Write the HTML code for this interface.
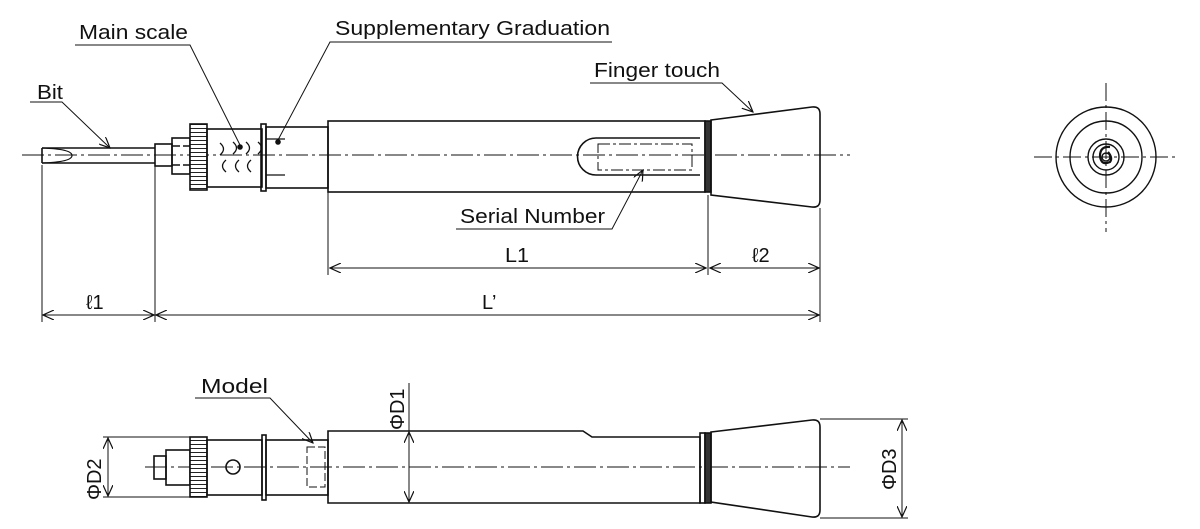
<!DOCTYPE html>
<html><head><meta charset="utf-8"><style>
html,body{margin:0;padding:0;background:#fff;}
svg{display:block;}
text{font-family:"Liberation Sans",sans-serif;font-size:20px;fill:#111;}
</style></head><body>
<svg width="1200" height="529" viewBox="0 0 1200 529" xmlns="http://www.w3.org/2000/svg">
<defs>
<pattern id="kn" width="3" height="4" patternUnits="userSpaceOnUse"><rect width="3" height="4" fill="#fff"/><line x1="0" y1="0.5" x2="3" y2="0.5" stroke="#222" stroke-width="1"/></pattern>
<marker id="ar" markerWidth="12" markerHeight="10" refX="11" refY="5" orient="auto" markerUnits="userSpaceOnUse"><path d="M0,0 L11,5 L0,10" fill="none" stroke="#111" stroke-width="1.2"/></marker>
</defs>
<g fill="none" stroke="#111" stroke-width="1.6">
<line x1="22" y1="155" x2="850" y2="155" stroke-width="1" stroke-dasharray="22,4,3,4"/>
<line x1="145" y1="467" x2="850" y2="467" stroke-width="1" stroke-dasharray="22,4,3,4"/>
<!-- TOP VIEW -->
<path d="M42,148 L155,148 M42,163 L155,163 M42,148 L42,163"/>
<path d="M42,148 Q72,149 72,155.5 Q72,162 42,163" stroke-width="1.2"/>
<rect x="155" y="144" width="17" height="22"/>
<rect x="172" y="138" width="18" height="36"/>
<path d="M172,146 L200,146 M172,165 L200,165" stroke-dasharray="8,3"/>
<rect x="190" y="124" width="17" height="66" fill="url(#kn)"/>
<rect x="207" y="129" width="55" height="58"/>
<rect x="261" y="124" width="5" height="67"/>
<rect x="266" y="127" width="62" height="61"/>
<path d="M266,139 L285,139 M266,175 L285,175" stroke-width="1.2"/>
<path d="M220,143 q7,6 0,12 M233,142 q7,6 0,12 M246,142 q7,6 0,12 M258,142 q7,6 0,12 M226,172 q-7,-6 0,-12 M239,172 q-7,-6 0,-12 M251,172 q-7,-6 0,-12" stroke-width="1.3"/>
<circle cx="240" cy="147" r="2" fill="#111"/>
<circle cx="278" cy="142" r="2" fill="#111"/>
<rect x="328" y="121" width="377" height="71"/>
<path d="M700,138 L596,138 A18.5,18.5 0 0 0 596,175 L700,175"/>
<rect x="598" y="144" width="94" height="26" stroke-width="1" stroke-dasharray="12,3,3,3"/>
<rect x="705" y="121" width="6" height="71" fill="#333"/>
<path d="M711,120 L812,107 Q820,106 820,114 L820,200 Q820,208 812,207 L711,195 Z"/>
<g stroke-width="1">
<line x1="42" y1="165" x2="42" y2="322"/>
<line x1="155" y1="166" x2="155" y2="322"/>
<line x1="328" y1="192" x2="328" y2="275"/>
<line x1="708" y1="195" x2="708" y2="275"/>
<line x1="820" y1="208" x2="820" y2="322"/>
<line x1="330" y1="268" x2="706" y2="268" marker-end="url(#ar)"/>
<line x1="706" y1="268" x2="330" y2="268" marker-end="url(#ar)"/>
<line x1="710" y1="268" x2="819" y2="268" marker-end="url(#ar)"/>
<line x1="819" y1="268" x2="710" y2="268" marker-end="url(#ar)"/>
<line x1="43" y1="315" x2="154" y2="315" marker-end="url(#ar)"/>
<line x1="154" y1="315" x2="43" y2="315" marker-end="url(#ar)"/>
<line x1="156" y1="315" x2="819" y2="315" marker-end="url(#ar)"/>
<line x1="819" y1="315" x2="156" y2="315" marker-end="url(#ar)"/>
<polyline points="30,102 62,102 110,148" marker-end="url(#ar)"/>
<polyline points="75,45 190,45 240,145"/>
<polyline points="612,42 330,42 278,140"/>
<polyline points="590,83 722,83 753,112" marker-end="url(#ar)"/>
<polyline points="456,229 612,229 643,170" marker-end="url(#ar)"/>
<polyline points="195,398 270,398 313,443" marker-end="url(#ar)"/>
</g>
<!-- END VIEW -->
<g stroke-width="1.4">
<line x1="1034" y1="157" x2="1178" y2="157" stroke-width="1" stroke-dasharray="18,4,3,4"/>
<line x1="1106" y1="83" x2="1106" y2="232" stroke-width="1" stroke-dasharray="18,4,3,4"/>
<circle cx="1106" cy="157" r="50"/>
<circle cx="1106" cy="157" r="36"/>
<circle cx="1106" cy="157" r="18"/>
<circle cx="1106" cy="157" r="13"/>
<circle cx="1106" cy="157" r="4"/>
<path d="M1110,147 Q1100,146 1100,156 Q1101,166 1110,162 Q1113,158 1108,152" stroke-width="2.2"/>
</g>
<!-- BOTTOM VIEW -->
<rect x="154" y="456" width="12" height="23"/>
<rect x="166" y="450" width="24" height="35"/>
<rect x="190" y="437" width="17" height="60" fill="url(#kn)"/>
<rect x="207" y="440" width="55" height="55"/>
<circle cx="233" cy="467" r="7"/>
<rect x="262" y="435" width="4" height="65"/>
<rect x="266" y="440" width="62" height="55"/>
<rect x="307" y="447" width="18" height="40" stroke-width="1" stroke-dasharray="8,3"/>
<path d="M328,431 L583,431 L592,437 L700,437 L700,503 L328,503 Z"/>
<rect x="700" y="433" width="5" height="70"/>
<rect x="705" y="433" width="6" height="70" fill="#333"/>
<path d="M711,432 L812,420 Q820,419 820,427 L820,510 Q820,518 812,517 L711,502 Z"/>
<g stroke-width="1">
<line x1="103" y1="437" x2="190" y2="437"/>
<line x1="103" y1="497" x2="190" y2="497"/>
<line x1="108" y1="467" x2="108" y2="438" marker-end="url(#ar)"/>
<line x1="108" y1="467" x2="108" y2="496" marker-end="url(#ar)"/>
<line x1="409" y1="383" x2="409" y2="432" />
<line x1="409" y1="467" x2="409" y2="432" marker-end="url(#ar)"/>
<line x1="409" y1="467" x2="409" y2="502" marker-end="url(#ar)"/>
<line x1="820" y1="419" x2="908" y2="419"/>
<line x1="820" y1="518" x2="908" y2="518"/>
<line x1="902" y1="467" x2="902" y2="420" marker-end="url(#ar)"/>
<line x1="902" y1="467" x2="902" y2="517" marker-end="url(#ar)"/>
</g>
</g>
<text x="37" y="99" textLength="26" lengthAdjust="spacingAndGlyphs">Bit</text>
<text x="79" y="39" textLength="109" lengthAdjust="spacingAndGlyphs">Main scale</text>
<text x="335" y="35" textLength="275" lengthAdjust="spacingAndGlyphs">Supplementary Graduation</text>
<text x="594" y="77" textLength="126" lengthAdjust="spacingAndGlyphs">Finger touch</text>
<text x="460" y="223" textLength="145" lengthAdjust="spacingAndGlyphs">Serial Number</text>
<text x="505" y="262" textLength="24" lengthAdjust="spacingAndGlyphs">L1</text>
<text x="752" y="262">ℓ2</text>
<text x="86" y="309">ℓ1</text>
<text x="482" y="309">L’</text>
<text x="201" y="393" textLength="67" lengthAdjust="spacingAndGlyphs">Model</text>
<text transform="translate(404,430) rotate(-90)">ΦD1</text>
<text transform="translate(101,500) rotate(-90)">ΦD2</text>
<text transform="translate(896,490) rotate(-90)">ΦD3</text>
</svg>
</body></html>
